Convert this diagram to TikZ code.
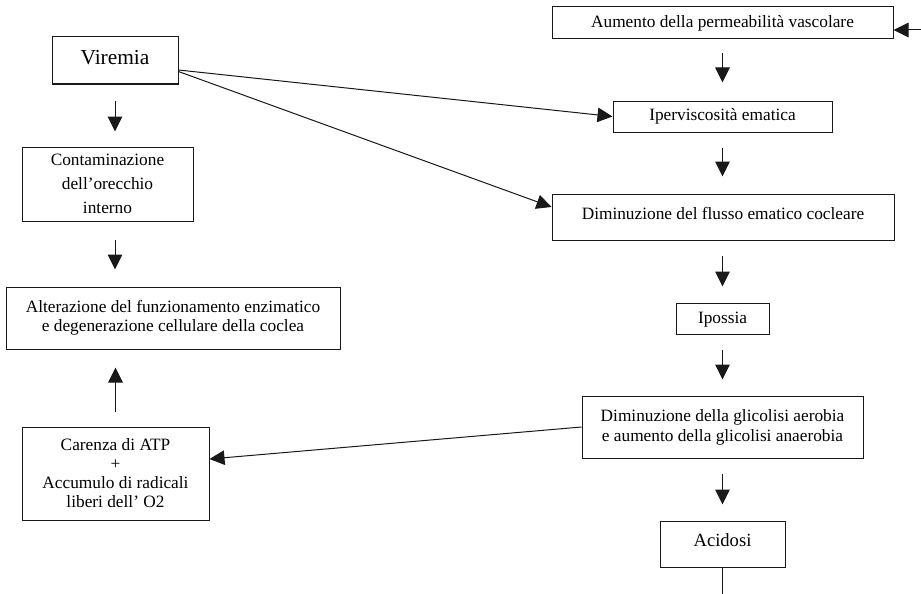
\documentclass[tikz,border=0pt]{standalone}
\usepackage{fontspec}
\setmainfont{Liberation Serif}
\usetikzlibrary{arrows.meta}
\tikzset{
  box/.style={draw=black!90, line width=1pt, inner sep=0pt, align=center, font=\fontsize{17.3}{20}\selectfont},
  arr/.style={draw=black!90, line width=1pt, -{Triangle[length=15pt,width=14.5pt]}},
  ln/.style={draw=black!90, line width=1pt}
}
\begin{document}
\begin{tikzpicture}[x=1pt,y=-1pt]
\useasboundingbox (0,0) rectangle (921,594);
% left column
\node[box, minimum width=126pt, minimum height=47pt, text height=15pt, text depth=7pt, font=\fontsize{21.4}{24}\selectfont] (vir) at (115,60.5) {Viremia};
\node[box, minimum width=171pt, minimum height=74pt, font=\fontsize{17.3}{24}\selectfont] (cont) at (107.5,184) {Contaminazione\\dell’orecchio\\interno};
\node[box, minimum width=334pt, minimum height=62pt, font=\fontsize{17.3}{18.5}\selectfont] (alt) at (173,318) {Alterazione del funzionamento enzimatico\\e degenerazione cellulare della coclea};
\node[box, minimum width=187pt, minimum height=93pt, font=\fontsize{17.3}{19}\selectfont] (car) at (115.5,473.5) {Carenza di ATP\\+\\Accumulo di radicali\\liberi dell’ O2};
% right column
\node[box, minimum width=341pt, minimum height=32pt] (aum) at (722.5,23) {Aumento della permeabilità vascolare};
\node[box, minimum width=219pt, minimum height=31pt] (ipv) at (722.5,116.5) {Iperviscosità ematica};
\node[box, minimum width=342pt, minimum height=46pt, text height=12pt, text depth=8pt] (flu) at (723,217) {Diminuzione del flusso ematico cocleare};
\node[box, minimum width=93pt, minimum height=31pt, text height=14pt, text depth=4pt] (ips) at (722.5,318.5) {Ipossia};
\node[box, minimum width=281pt, minimum height=62pt, font=\fontsize{17.3}{20}\selectfont] (gli) at (722.5,427) {Diminuzione della glicolisi aerobia\\e aumento della glicolisi anaerobia};
\node[box, minimum width=125pt, minimum height=46pt, text height=13pt, text depth=8pt, font=\fontsize{18.6}{21}\selectfont] (aci) at (722.5,544) {Acidosi};
\coordinate (src) at (921,30);
\coordinate (bot) at (722.5,594);
% vertical arrows left
\draw[arr, shorten <=16pt, shorten >=15pt] (vir.south) -- (vir.south |- cont.north);
\draw[arr, shorten <=18pt, shorten >=17pt] (vir.south |- cont.south) -- (vir.south |- alt.north);
\draw[arr, shorten <=15pt, shorten >=18pt] (car.north) -- (car.north |- alt.south);
% vertical arrows right
\draw[arr, shorten <=14pt, shorten >=18pt] (aum.south) -- (aum.south |- ipv.north);
\draw[arr, shorten <=15pt, shorten >=17pt] (ipv.south) -- (ipv.south |- flu.north);
\draw[arr, shorten <=15pt, shorten >=16pt] (ips.north |- flu.south) -- (ips.north);
\draw[arr, shorten <=15pt, shorten >=16pt] (ips.south) -- (ips.south |- gli.north);
\draw[arr, shorten <=15pt, shorten >=16pt] (gli.south) -- (gli.south |- aci.north);
\draw[ln] (aci.south) -- (bot);
% other connectors
\draw[arr] (src) -- (src -| aum.east);
\draw[arr] ([yshift=-9.5pt]vir.east) -- (ipv.west);
\draw[arr] ([yshift=-11pt]vir.east) -- ([yshift=10pt]flu.west);
\draw[arr] (gli.west) -- ([yshift=14.5pt]car.east);
\end{tikzpicture}
\end{document}
